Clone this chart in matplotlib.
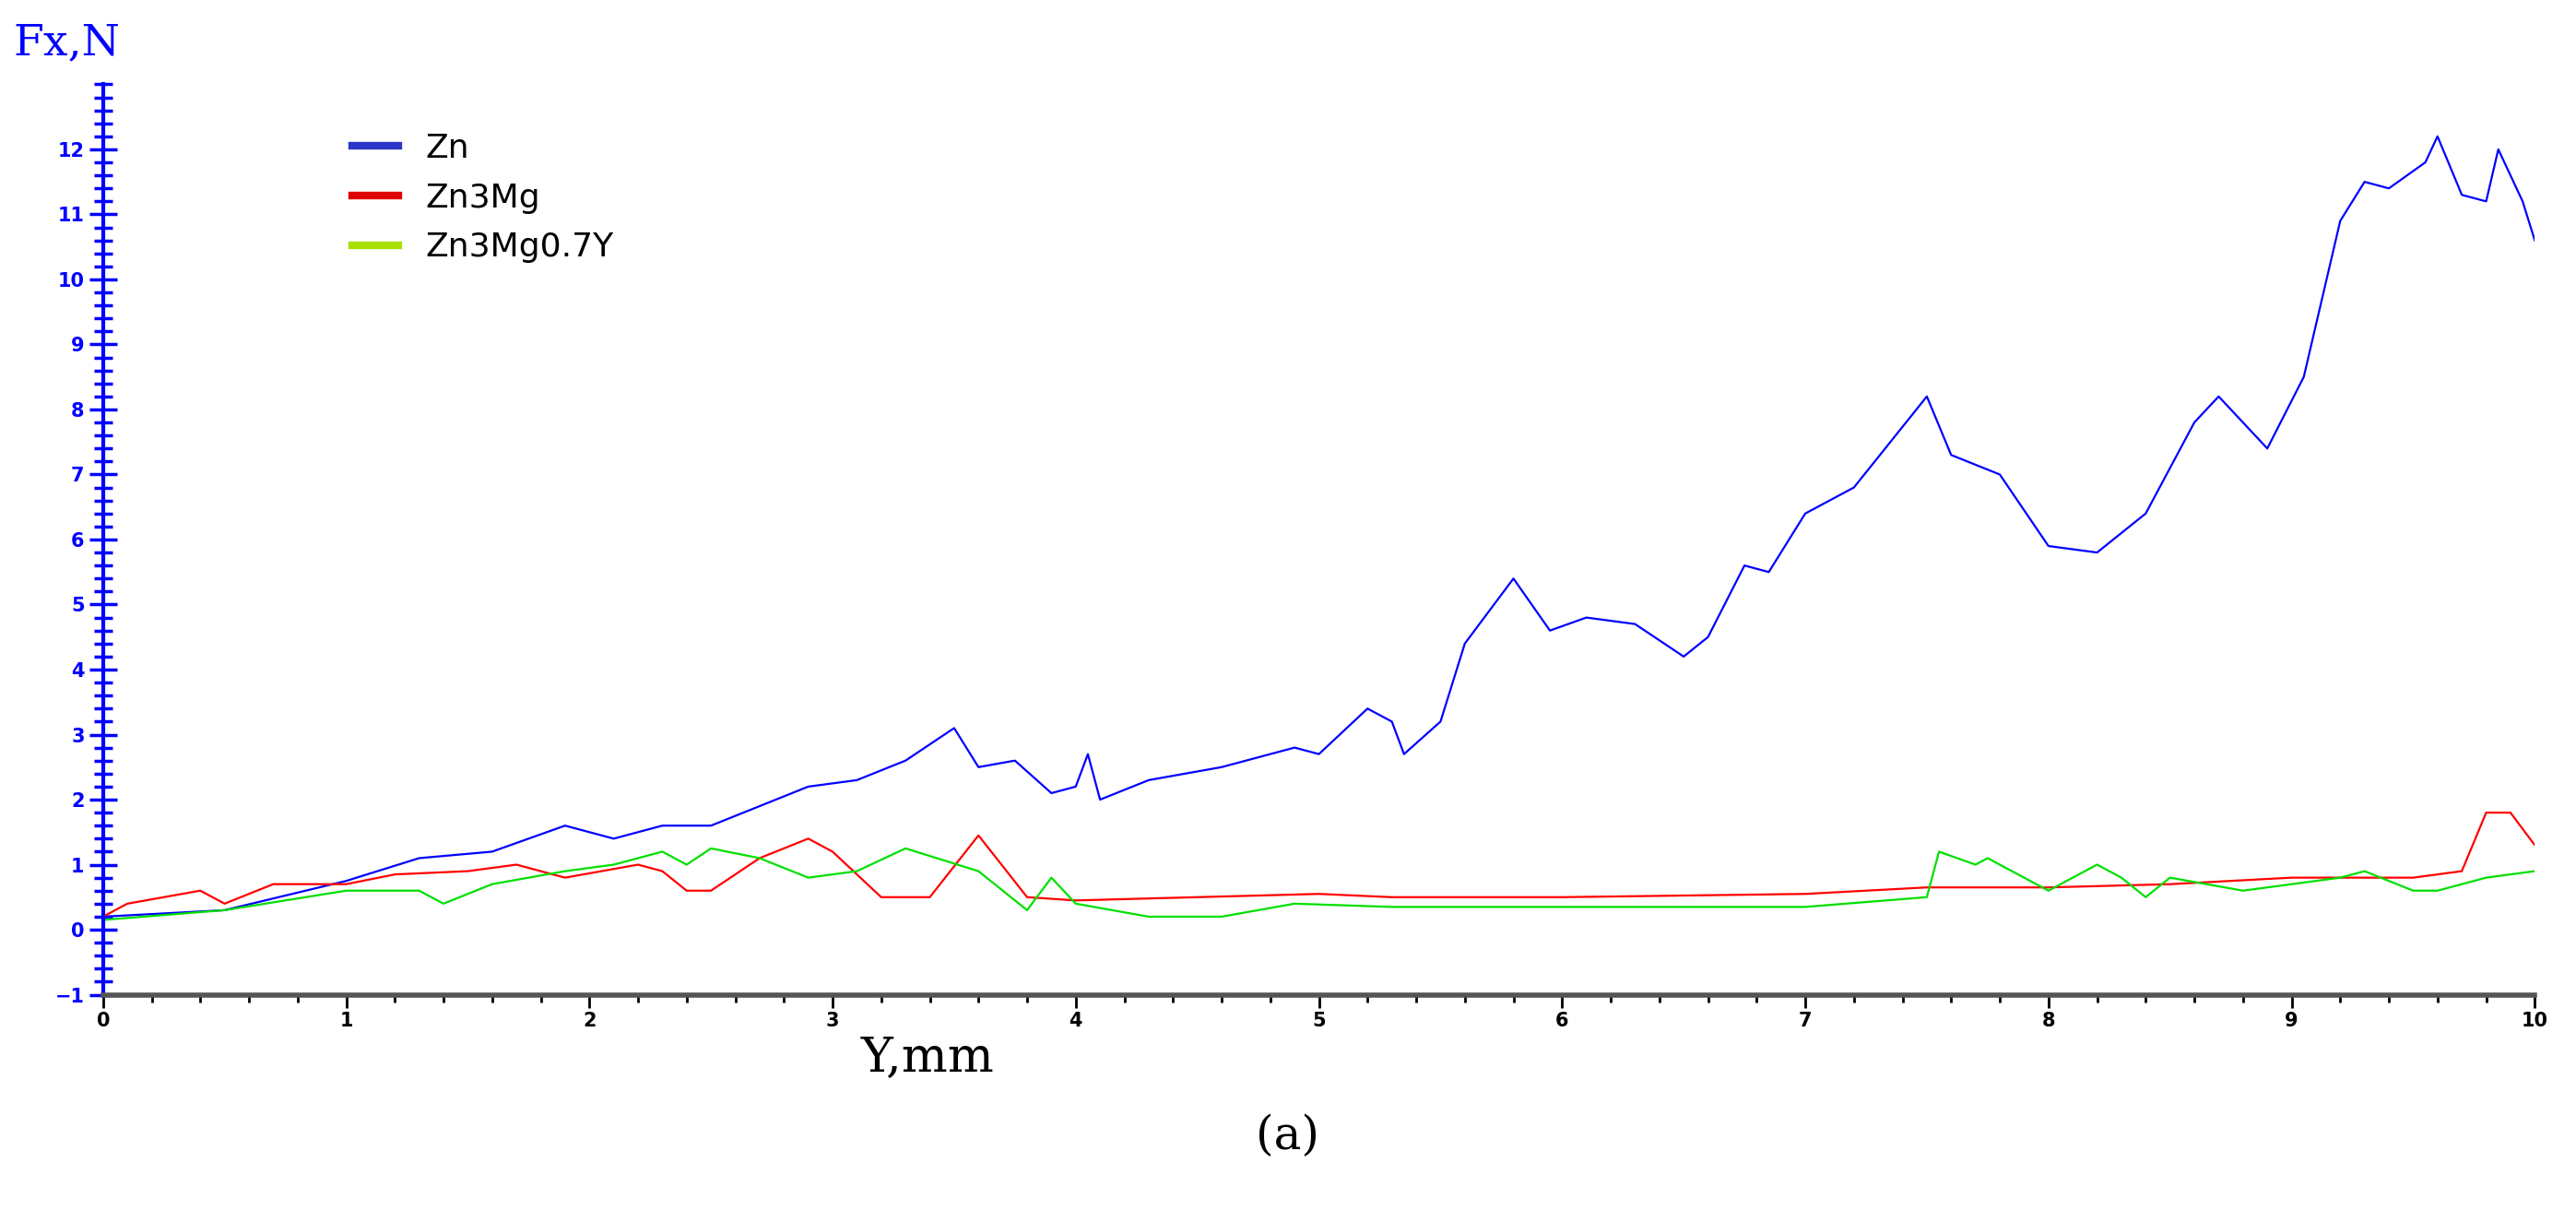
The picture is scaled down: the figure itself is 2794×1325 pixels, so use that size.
import numpy as np
import matplotlib.pyplot as plt
from matplotlib.ticker import MultipleLocator, FixedLocator

# ── data ─────────────────────────────────────────────────────────────
zn_x = [0, 0.5, 1.0, 1.3, 1.6, 1.9, 2.0, 2.1, 2.3, 2.5, 2.7, 2.9, 3.1, 3.3,
        3.5, 3.6, 3.75, 3.9, 4.0, 4.05, 4.1, 4.3, 4.6, 4.9, 5.0, 5.2, 5.3,
        5.35, 5.5, 5.6, 5.8, 5.95, 6.1, 6.3, 6.5, 6.6, 6.75, 6.85, 7.0, 7.2,
        7.5, 7.6, 7.8, 8.0, 8.2, 8.4, 8.6, 8.7, 8.8, 8.9, 9.05, 9.2, 9.3,
        9.4, 9.55, 9.6, 9.7, 9.8, 9.85, 9.95, 10.0]
zn_y = [0.2, 0.3, 0.75, 1.1, 1.2, 1.6, 1.5, 1.4, 1.6, 1.6, 1.9, 2.2, 2.3, 2.6,
        3.1, 2.5, 2.6, 2.1, 2.2, 2.7, 2.0, 2.3, 2.5, 2.8, 2.7, 3.4, 3.2,
        2.7, 3.2, 4.4, 5.4, 4.6, 4.8, 4.7, 4.2, 4.5, 5.6, 5.5, 6.4, 6.8,
        8.2, 7.3, 7.0, 5.9, 5.8, 6.4, 7.8, 8.2, 7.8, 7.4, 8.5, 10.9, 11.5,
        11.4, 11.8, 12.2, 11.3, 11.2, 12.0, 11.2, 10.6]

mg_x = [0, 0.1, 0.4, 0.5, 0.7, 1.0, 1.2, 1.5, 1.7, 1.9, 2.2, 2.3, 2.4, 2.5,
        2.7, 2.9, 3.0, 3.2, 3.4, 3.6, 3.8, 4.0, 5.0, 5.3, 6.0, 7.0, 7.5,
        8.0, 8.5, 9.0, 9.5, 9.7, 9.8, 9.9, 10.0]
mg_y = [0.2, 0.4, 0.6, 0.4, 0.7, 0.7, 0.85, 0.9, 1.0, 0.8, 1.0, 0.9, 0.6,
        0.6, 1.1, 1.4, 1.2, 0.5, 0.5, 1.45, 0.5, 0.45, 0.55, 0.5, 0.5, 0.55,
        0.65, 0.65, 0.7, 0.8, 0.8, 0.9, 1.8, 1.8, 1.3]

mgy_x = [0, 0.5, 1.0, 1.3, 1.4, 1.6, 1.9, 2.1, 2.3, 2.4, 2.5, 2.7, 2.9, 3.1,
         3.3, 3.6, 3.7, 3.8, 3.9, 4.0, 4.3, 4.6, 4.9, 5.3, 6.0, 7.0, 7.5,
         7.55, 7.7, 7.75, 8.0, 8.2, 8.3, 8.4, 8.5, 8.8, 9.0, 9.2, 9.3, 9.5,
         9.6, 9.8, 10.0]
mgy_y = [0.15, 0.3, 0.6, 0.6, 0.4, 0.7, 0.9, 1.0, 1.2, 1.0, 1.25, 1.1, 0.8,
         0.9, 1.25, 0.9, 0.6, 0.3, 0.8, 0.4, 0.2, 0.2, 0.4, 0.35, 0.35, 0.35,
         0.5, 1.2, 1.0, 1.1, 0.6, 1.0, 0.8, 0.5, 0.8, 0.6, 0.7, 0.8, 0.9, 0.6,
         0.6, 0.8, 0.9]

y_ticks = list(range(-1, 13))

# ── plot ─────────────────────────────────────────────────────────────
fig = plt.figure(figsize=(27.94, 13.25), dpi=100)
ax = fig.add_axes([0.040, 0.186, 0.944, 0.745])

ax.plot(zn_x, zn_y, color="#0000ff", lw=1.6)
ax.plot(mg_x, mg_y, color="#ff0000", lw=1.6)
ax.plot(mgy_x, mgy_y, color="#00e000", lw=1.6)

ax.set_xlim(0, 10)
ax.set_ylim(-1, 13)
for s in ("top", "right"):
    ax.spines[s].set_visible(False)
ax.spines["left"].set_color("#0000ff")
ax.spines["left"].set_linewidth(3)
ax.spines["bottom"].set_color("#555555")
ax.spines["bottom"].set_linewidth(4)

ax.xaxis.set_major_locator(MultipleLocator(1))
ax.xaxis.set_minor_locator(MultipleLocator(0.2))
ax.yaxis.set_major_locator(FixedLocator(y_ticks))
ax.yaxis.set_minor_locator(MultipleLocator(0.2))
ax.tick_params(axis="y", which="both", direction="inout", colors="#0000ff",
               width=2.5, labelsize=15)
ax.tick_params(axis="y", which="major", length=22)
ax.tick_params(axis="y", which="minor", length=14)
ax.tick_params(axis="x", which="both", direction="out", colors="black",
               width=2, labelsize=15)
ax.tick_params(axis="x", which="major", length=10)
ax.tick_params(axis="x", which="minor", length=6)
for t in ax.get_yticklabels() + ax.get_xticklabels():
    t.set_fontweight("bold")

fig.text(0.005, 0.965, "Fx,N", color="#0000ff", fontsize=34,
         family="DejaVu Serif", va="center")
fig.text(0.36, 0.135, "Y,mm", color="black", fontsize=38,
         family="DejaVu Serif", ha="center", va="center")
fig.text(0.5, 0.07, "(a)", color="black", fontsize=36,
         family="DejaVu Serif", ha="center", va="center")

ax.legend(["Zn", "Zn3Mg", "Zn3Mg0.7Y"], loc="upper left",
          bbox_to_anchor=(0.09, 0.98), frameon=False, fontsize=26,
          handlelength=1.4, labelspacing=0.55)
for h, c in zip(ax.get_legend().get_lines(), ["#2a35c8", "#e00000", "#a8e000"]):
    h.set_color(c)
    h.set_linewidth(6)

fig.savefig("out.png", dpi=100)
